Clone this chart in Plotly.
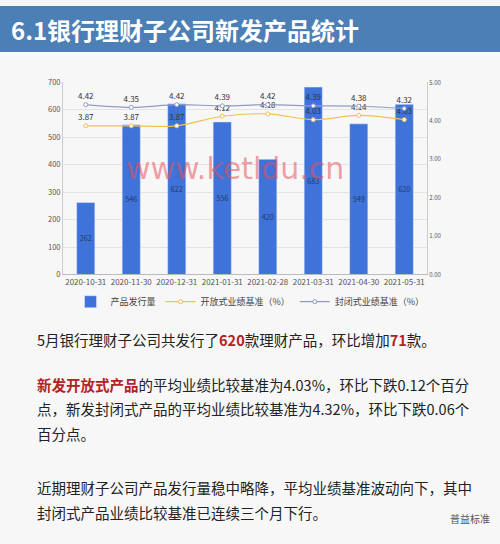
import plotly.graph_objects as go

dates = ["2020-10-31","2020-11-30","2020-12-31","2021-01-31","2021-02-28","2021-03-31","2021-04-30","2021-05-31"]
issued = [262, 546, 622, 556, 420, 683, 549, 620]
open_bm = [3.87, 3.87, 3.87, 4.12, 4.18, 4.03, 4.14, 4.03]
closed_bm = [4.42, 4.35, 4.42, 4.39, 4.42, 4.39, 4.38, 4.32]
left_ticks = [0, 100, 200, 300, 400, 500, 600, 700]
right_ticks = [0, 1, 2, 3, 4, 5]

W, H = 500, 544
def py(y): return 1 - y / H

fig = go.Figure()
fig.add_bar(x=dates, y=issued, name="产品发行量", marker_color="#3f73d9", width=0.4,
            text=[str(v) for v in issued], textposition="inside", insidetextanchor="middle",
            textangle=0, textfont=dict(color="#1f3b6e", size=9))
fig.add_scatter(x=dates, y=open_bm, name="开放式业绩基准（%）", yaxis="y2", mode="lines+markers+text",
                line=dict(color="#f2c14e", width=1.2, shape="spline"),
                marker=dict(color="white", size=4, line=dict(color="#f2c14e", width=1)),
                text=[f"{v:.2f}" for v in open_bm], textposition="top center",
                textfont=dict(color="#333", size=8))
fig.add_scatter(x=dates, y=closed_bm, name="封闭式业绩基准（%）", yaxis="y2", mode="lines+markers+text",
                line=dict(color="#8e9cc4", width=1.2, shape="spline"),
                marker=dict(color="white", size=4, line=dict(color="#8e9cc4", width=1)),
                text=[f"{v:.2f}" for v in closed_bm], textposition="top center",
                textfont=dict(color="#333", size=8))

fig.update_layout(
    width=W, height=H, margin=dict(l=0, r=0, t=0, b=0),
    paper_bgcolor="#f7f7f8", plot_bgcolor="rgba(0,0,0,0)",
    font=dict(family="Noto Sans CJK SC", color="#555"),
    xaxis=dict(type="category", domain=[63/W, 427/W], anchor="y", tickfont=dict(size=8), showgrid=False,
               showline=True, linecolor="#bbb", ticks=""),
    yaxis=dict(domain=[py(274), py(78)], range=[0, 700], tickvals=left_ticks, tickfont=dict(size=7.5),
               gridcolor="#e3e3e3", zeroline=False, showline=True, linecolor="#ccc"),
    yaxis2=dict(overlaying="y", side="right", range=[0, 5], tickvals=right_ticks, tickformat=".2f",
                tickfont=dict(size=6), showgrid=False, zeroline=False, showline=True, linecolor="#ccc"),
    legend=dict(orientation="h", x=0.5, xanchor="center", y=py(287), yanchor="top",
                font=dict(size=9, color="#444"), bgcolor="rgba(0,0,0,0)"),
)

fig.add_shape(type="rect", xref="paper", yref="paper", x0=0, x1=1, y0=py(47), y1=1,
              fillcolor="#4b7fb5", line_width=0, layer="below")
fig.add_annotation(text="<b>6.1银行理财子公司新发产品统计</b>", xref="paper", yref="paper",
                   x=9/W, y=py(24), xanchor="left", yanchor="middle", showarrow=False,
                   font=dict(size=24, color="white"))
fig.add_annotation(text="www.ketldu.cn", xref="paper", yref="paper", x=235/W, y=py(146),
                   showarrow=False, font=dict(size=30, color="rgba(232,80,90,0.55)", family="DejaVu Sans"))

red = "#b22222"
lines = [
    (340, f"5月银行理财子公司共发行了<b><span style='color:{red}'>620</span></b>款理财产品，环比增加<b><span style='color:{red}'>71</span></b>款。"),
    (386, f"<b><span style='color:{red}'>新发开放式产品</span></b>的平均业绩比较基准为4.03%，环比下跌0.12个百分"),
    (411, "点，新发封闭式产品的平均业绩比较基准为4.32%，环比下跌0.06个"),
    (436, "百分点。"),
    (491, "近期理财子公司产品发行量稳中略降，平均业绩基准波动向下，其中"),
    (517, "封闭式产品业绩比较基准已连续三个月下行。"),
]
for y, t in lines:
    fig.add_annotation(text=t, xref="paper", yref="paper", x=35/W, y=py(y), xanchor="left",
                       yanchor="middle", showarrow=False, font=dict(size=14.5, color="#222"))
fig.add_annotation(text="普益标准", xref="paper", yref="paper", x=492/W, y=py(523), xanchor="right",
                   yanchor="middle", showarrow=False, font=dict(size=10, color="#555"))

fig.write_html("out.html", config={"displayModeBar": False},
               post_script="document.body.style.margin='0';")
